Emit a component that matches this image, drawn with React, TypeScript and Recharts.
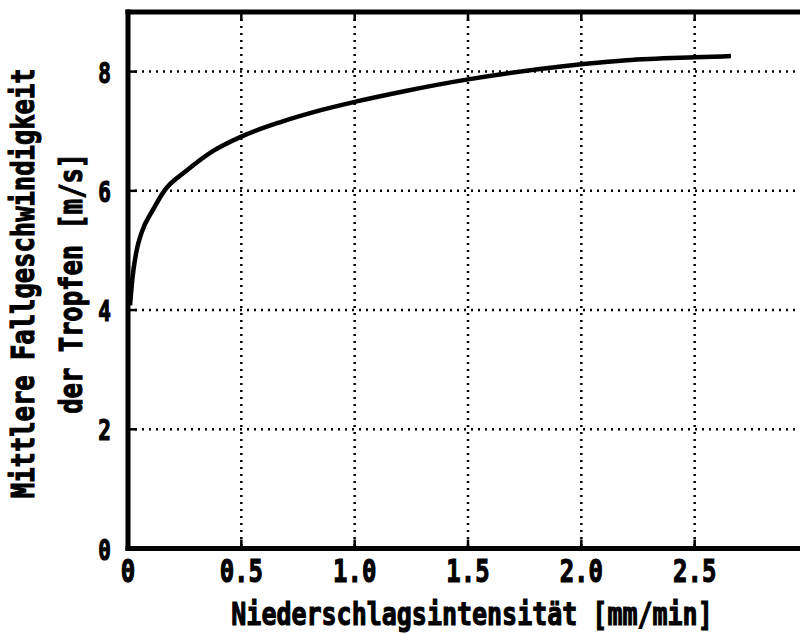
import { LineChart, Line, XAxis, YAxis, CartesianGrid } from "recharts";

// Mean fall speed of rain drops vs. rain intensity
const intensity = [
  0.009, 0.02, 0.037, 0.06, 0.11, 0.16, 0.259, 0.376, 0.5, 0.67, 0.847,
  1.009, 1.23, 1.5, 1.92, 2.02, 2.2, 2.5, 2.66,
];
const fallSpeed = [
  4.08, 4.55, 4.98, 5.3, 5.68, 6.0, 6.34, 6.67, 6.91, 7.15, 7.35, 7.5,
  7.68, 7.87, 8.09, 8.13, 8.19, 8.24, 8.26,
];

const xTicks = [0, 0.5, 1, 1.5, 2, 2.5];
const yTicks = [0, 2, 4, 6, 8];
const xTitle = "Niederschlagsintensität [mm/min]";
const yTitleLines = ["Mittlere Fallgeschwindigkeit", "der Tropfen [m/s]"];

const data = intensity.map((x, i) => ({ x, v: fallSpeed[i] }));

const FONT = "'DejaVu Sans Mono', 'Liberation Mono', monospace";
const fmtX = (v: number) => (v === 0 ? "0" : v.toFixed(1));

const TICK_LEN = 9;
const X_MARGIN = 33.5;
const Y_MARGIN = 17;

const frame = { stroke: "#000", strokeWidth: 5, strokeLinecap: "square" as const };

const textStyle = {
  fontFamily: FONT,
  fontWeight: "bold" as const,
  fill: "#000",
  stroke: "#000",
  strokeWidth: 0.9,
};

// bottom axis: inward tick + label underneath
const XTick = ({ x, y, payload }: any) => {
  const axisY = y - X_MARGIN;
  return (
    <g>
      <line x1={x} x2={x} y1={axisY} y2={axisY - TICK_LEN} stroke="#000" strokeWidth={2.5} />
      <text
        transform={`translate(${x},${y}) scale(1,1.3)`}
        textAnchor="middle"
        fontSize={24}
        {...textStyle}
      >
        {fmtX(payload.value)}
      </text>
    </g>
  );
};

// left axis: inward tick + label on the left
const YTick = ({ x, y, payload }: any) => {
  const axisX = x + Y_MARGIN;
  return (
    <g>
      <line x1={axisX} x2={axisX + TICK_LEN} y1={y} y2={y} stroke="#000" strokeWidth={2.5} />
      <text
        transform={`translate(${x},${y + 11}) scale(1,1.35)`}
        textAnchor="end"
        fontSize={21}
        {...textStyle}
      >
        {payload.value}
      </text>
    </g>
  );
};

const TopTick = ({ x, y }: any) => (
  <line x1={x} x2={x} y1={y} y2={y + TICK_LEN} stroke="#000" strokeWidth={2.5} />
);

const RightTick = ({ x, y }: any) => (
  <line x1={x} x2={x - TICK_LEN} y1={y} y2={y} stroke="#000" strokeWidth={2.5} />
);

const XTitle = ({ viewBox }: any) => {
  const cx = viewBox.x + viewBox.width / 2 + 4;
  return (
    <text
      transform={`translate(${cx},625) scale(1,1.25)`}
      textAnchor="middle"
      fontSize={25}
      {...textStyle}
    >
      {xTitle}
    </text>
  );
};

const YTitle = ({ viewBox }: any) => {
  const right = viewBox.x + viewBox.width;
  const cy = viewBox.y + viewBox.height / 2 + 3;
  const baselines = [right - 94, right - 46];
  return (
    <g>
      {yTitleLines.map((line, i) => (
        <text
          key={line}
          transform={`translate(${baselines[i]},${cy}) rotate(-90) scale(1,1.25)`}
          textAnchor="middle"
          fontSize={25.5}
          {...textStyle}
        >
          {line}
        </text>
      ))}
    </g>
  );
};

export default function App() {
  return (
    <div
      style={{
        position: "fixed",
        left: 0,
        top: 0,
        width: 800,
        height: 635,
        overflow: "hidden",
        background: "#fff",
      }}
    >
      <LineChart
        width={830}
        height={635}
        data={data}
        margin={{ top: 0, right: 0, bottom: 0, left: 0 }}
      >
        <CartesianGrid stroke="#000" strokeWidth={2.5} strokeDasharray="2 5" />
        <XAxis
          dataKey="x"
          type="number"
          domain={[0, 3]}
          ticks={xTicks}
          height={86.5}
          axisLine={frame}
          tickLine={false}
          tickSize={0}
          tickMargin={X_MARGIN}
          tick={<XTick />}
          interval={0}
          label={<XTitle />}
        />
        <XAxis
          xAxisId="top"
          orientation="top"
          dataKey="x"
          type="number"
          domain={[0, 3]}
          ticks={xTicks}
          height={12}
          axisLine={frame}
          tickLine={false}
          tickSize={0}
          tickMargin={0}
          tick={<TopTick />}
          interval={0}
        />
        <YAxis
          type="number"
          domain={[0, 9]}
          ticks={yTicks}
          width={128}
          axisLine={frame}
          tickLine={false}
          tickSize={0}
          tickMargin={Y_MARGIN}
          tick={<YTick />}
          interval={0}
          label={<YTitle />}
        />
        <YAxis
          yAxisId="right"
          orientation="right"
          type="number"
          domain={[0, 9]}
          ticks={yTicks}
          width={22}
          axisLine={frame}
          tickLine={false}
          tickSize={0}
          tickMargin={0}
          tick={<RightTick />}
          interval={0}
        />
        <Line
          type="monotone"
          dataKey="v"
          stroke="#000"
          strokeWidth={4.5}
          dot={false}
          isAnimationActive={false}
        />
      </LineChart>
    </div>
  );
}
